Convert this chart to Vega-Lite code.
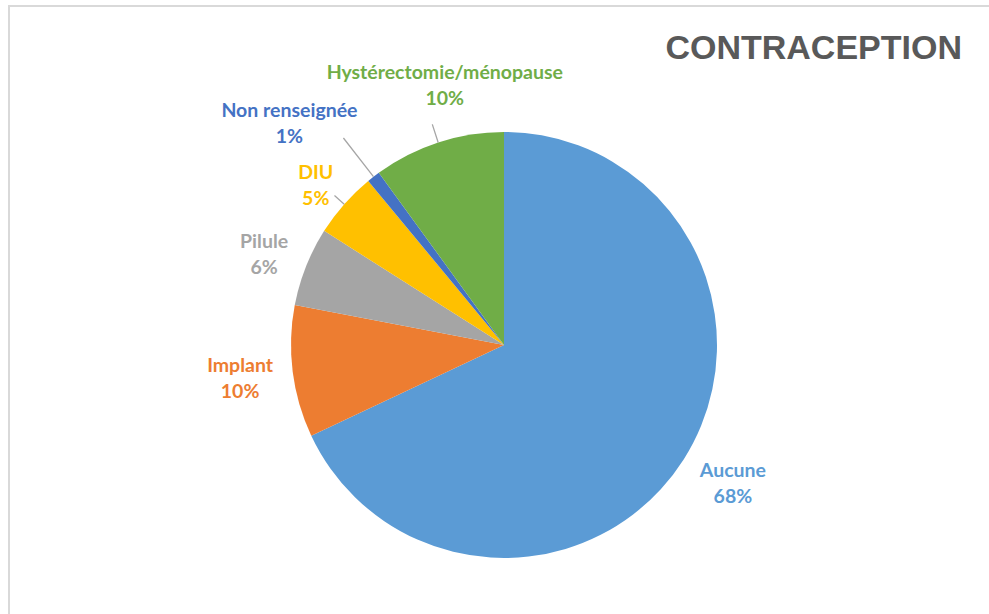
{
  "$schema": "https://vega.github.io/schema/vega-lite/v6.json",
  "width": 990,
  "height": 678,
  "autosize": {"type": "none"},
  "padding": {"left": 9, "top": 6, "right": -10, "bottom": -70},
  "background": "white",
  "view": {"stroke": "#d9d9d9", "strokeWidth": 2, "fill": "white"},
  "config": {"view": {"stroke": "#d9d9d9", "strokeWidth": 2}},
  "title": {
    "text": "CONTRACEPTION",
    "anchor": "end",
    "orient": "top",
    "frame": "group",
    "offset": 0,
    "baseline": "alphabetic",
    "font": "Liberation Sans",
    "fontSize": 34,
    "fontWeight": "bold",
    "color": "#595959",
    "dx": -37,
    "dy": 87
  },
  "data": {
    "values": [
      {"cat": "Aucune", "pct": 68, "rang": 1, "label": ["Aucune", "68%"]},
      {"cat": "Implant", "pct": 10, "rang": 2, "label": ["Implant", "10%"]},
      {"cat": "Pilule", "pct": 6, "rang": 3, "label": ["Pilule", "6%"]},
      {"cat": "DIU", "pct": 5, "rang": 4, "label": ["DIU", "5%"]},
      {"cat": "Non renseignée", "pct": 1, "rang": 5, "label": ["Non renseignée", "1%"]},
      {"cat": "Hystérectomie/ménopause", "pct": 10, "rang": 6, "label": ["Hystérectomie/ménopause", "10%"]}
    ]
  },
  "encoding": {
    "theta": {"field": "pct", "type": "quantitative", "stack": true},
    "order": {"field": "rang", "type": "quantitative"}
  },
  "layer": [
    {
      "mark": {"type": "arc", "outerRadius": 213},
      "encoding": {
        "color": {
          "field": "cat",
          "type": "nominal",
          "scale": {
            "domain": ["Aucune", "Implant", "Pilule", "DIU", "Non renseignée", "Hystérectomie/ménopause"],
            "range": ["#5B9BD5", "#ED7D31", "#A5A5A5", "#FFC000", "#4472C4", "#70AD47"]
          },
          "legend": null
        }
      }
    },
    {
      "mark": {
        "type": "arc",
        "filled": false,
        "fill": null,
        "strokeWidth": 1.3,
        "stroke": {"expr": "datum.cat === 'DIU' || datum.cat === 'Non renseignée' || datum.cat === 'Hystérectomie/ménopause' ? '#a6a6a6' : null"},
        "padAngle": 1.2,
        "innerRadius": 213,
        "outerRadius": {"expr": "datum.cat === 'DIU' ? 226 : datum.cat === 'Non renseignée' ? 262 : 232"}
      }
    },
    {
      "mark": {
        "type": "text",
        "font": "Lato",
        "fontWeight": "bold",
        "fontSize": 19.5,
        "lineHeight": 25.5,
        "align": "center",
        "baseline": "middle",
        "radius": {"expr": "datum.cat === 'Aucune' ? 264 : datum.cat === 'Implant' ? 266 : datum.cat === 'Pilule' ? 258 : datum.cat === 'DIU' ? 251 : datum.cat === 'Non renseignée' ? 306 : 266"},
        "dx": {"expr": "datum.cat === 'Aucune' ? 6 : datum.cat === 'Non renseignée' ? -27 : datum.cat === 'Hystérectomie/ménopause' ? 23 : 0"},
        "dy": {"expr": "datum.cat === 'Aucune' ? -15 : datum.cat === 'Implant' ? -12 : datum.cat === 'Pilule' ? -8 : datum.cat === 'DIU' ? -6 : datum.cat === 'Non renseignée' ? 8 : -19"}
      },
      "encoding": {
        "text": {"field": "label", "type": "nominal"},
        "color": {
          "field": "cat",
          "type": "nominal",
          "scale": {
            "domain": ["Aucune", "Implant", "Pilule", "DIU", "Non renseignée", "Hystérectomie/ménopause"],
            "range": ["#5B9BD5", "#ED7D31", "#A5A5A5", "#FFC000", "#4472C4", "#70AD47"]
          },
          "legend": null
        }
      }
    }
  ]
}
